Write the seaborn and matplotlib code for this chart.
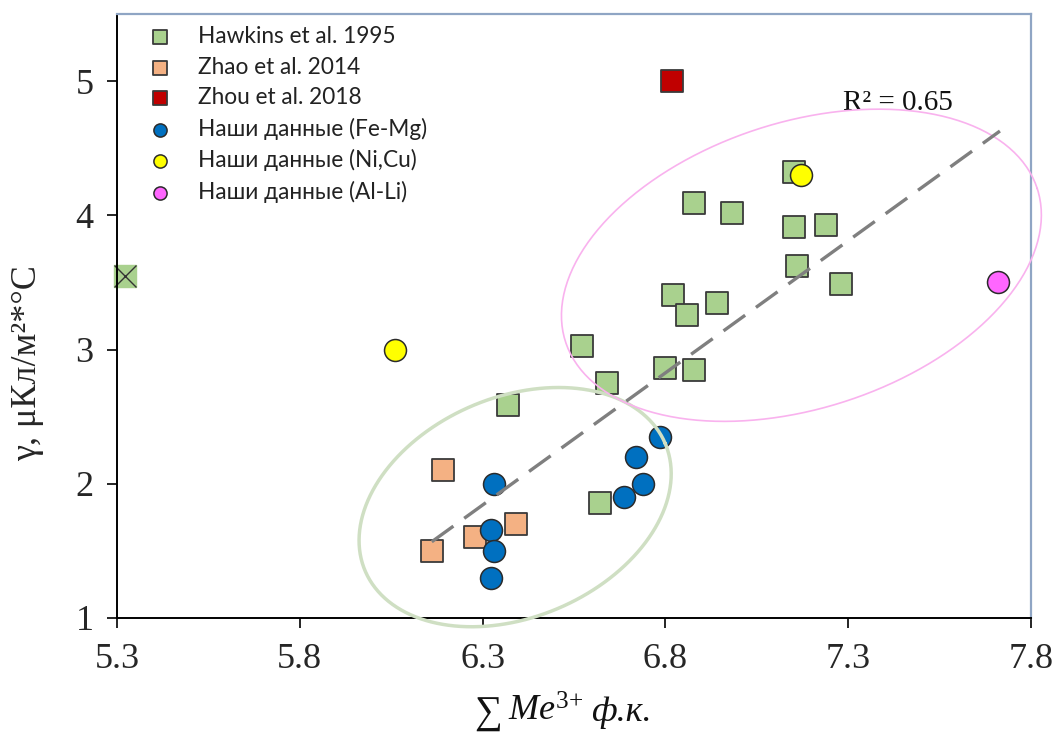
import numpy as np
import matplotlib
matplotlib.use("Agg")
import matplotlib.pyplot as plt
import seaborn as sns

# values
hawkins_x = [7.153, 6.879, 6.983, 7.153, 7.240, 7.161, 7.281, 6.822, 6.860,
             6.942, 6.573, 6.800, 6.879, 6.641, 6.370, 6.622]
hawkins_y = [4.32, 4.09, 4.02, 3.91, 3.93, 3.62, 3.49, 3.41, 3.26,
             3.35, 3.03, 2.86, 2.85, 2.75, 2.59, 1.86]
crossed_x = [5.322]          # Hawkins-coloured square marked with a cross
crossed_y = [3.55]
zhao_x = [6.191, 6.161, 6.280, 6.390]
zhao_y = [2.10, 1.50, 1.60, 1.70]
zhou_x = [6.817]
zhou_y = [5.00]
femg_x = [6.330, 6.324, 6.330, 6.324, 6.784, 6.720, 6.740, 6.688]
femg_y = [2.00, 1.655, 1.50, 1.30, 2.35, 2.20, 2.00, 1.90]
nicu_x = [6.061, 7.172]
nicu_y = [3.00, 4.30]
alli_x = [7.711]
alli_y = [3.50]
trend_x = [6.161, 7.715]
trend_y = [1.568, 4.628]
r2_text = "R² = 0.65"
x_ticks = [5.3, 5.8, 6.3, 6.8, 7.3, 7.8]
y_ticks = [1, 2, 3, 4, 5]

sns.set_theme(style="white")
plt.rcParams['font.family'] = ['Liberation Serif', 'DejaVu Serif']
plt.rcParams['mathtext.fontset'] = 'custom'
plt.rcParams['mathtext.rm'] = 'Liberation Serif'
plt.rcParams['mathtext.it'] = 'Liberation Serif:italic'

fig = plt.figure(figsize=(10.59, 7.33), dpi=100)
ax = fig.add_axes([117 / 1059, 115 / 733, 914 / 1059, 604 / 733])

sq = dict(marker='s', s=250, edgecolor='#3a3a3a', linewidth=1.3, zorder=3)
ci = dict(marker='o', s=250, edgecolor='#2b2b2b', linewidth=1.1, zorder=4)

sns.scatterplot(x=crossed_x, y=crossed_y, color='#A9D18E', marker='s', s=250,
                edgecolor='#A9D18E', linewidth=1, zorder=2, clip_on=False, ax=ax)
sns.scatterplot(x=crossed_x, y=crossed_y, color='#333333', marker='x', s=250,
                linewidth=1, zorder=2, clip_on=False, ax=ax)
sns.scatterplot(x=hawkins_x, y=hawkins_y, color='#A9D18E', label='Hawkins et al. 1995', ax=ax, **sq)
sns.scatterplot(x=zhao_x, y=zhao_y, color='#F4B183', label='Zhao et al. 2014', ax=ax, **sq)
sns.scatterplot(x=zhou_x, y=zhou_y, color='#C00000', label='Zhou et al. 2018', ax=ax, **sq)
sns.scatterplot(x=femg_x, y=femg_y, color='#0070C0', label='Наши данные (Fe-Mg)', ax=ax, **ci)
sns.scatterplot(x=nicu_x, y=nicu_y, color='#FFFF00', label='Наши данные (Ni,Cu)', ax=ax, **ci)
sns.scatterplot(x=alli_x, y=alli_y, color='#FF66FF', label='Наши данные (Al-Li)', ax=ax, **ci)

ax.set_xlim(5.3, 7.8)
ax.set_ylim(1, 5.5)
ax.set_xticks(x_ticks)
ax.set_xticklabels([f"{t:.1f}" for t in x_ticks])
ax.set_yticks(y_ticks)

# trend line on top of the markers
sns.lineplot(x=trend_x, y=trend_y, color='#7F7F7F', linewidth=2.4,
             dashes=False, zorder=6, ax=ax)
ax.lines[-1].set_dashes((8, 4))


def draw_ellipse(center, a, b, angle, **kw):
    # a, b in pixels, drawn in display space then mapped back to data
    cx, cy = ax.transData.transform(center)
    t = np.linspace(0, 2 * np.pi, 300)
    th = np.deg2rad(angle)
    px = cx + a * np.cos(t) * np.cos(th) - b * np.sin(t) * np.sin(th)
    py = cy + a * np.cos(t) * np.sin(th) + b * np.sin(t) * np.cos(th)
    pts = ax.transData.inverted().transform(np.column_stack([px, py]))
    ax.plot(pts[:, 0], pts[:, 1], clip_on=False, **kw)


draw_ellipse((6.389, 1.826), 163, 110, 23, color='#CFDFC3', lw=2.5, zorder=5)
draw_ellipse((7.172, 3.628), 248, 143, 18, color='#F9B2EE', lw=1.2, zorder=5)

ax.text(7.437, 4.835, r2_text, ha='center', va='center', fontsize=21, color='#111111')

for side in ['left', 'bottom']:
    ax.spines[side].set_color('black')
    ax.spines[side].set_linewidth(1.4)
for side in ['top', 'right']:
    ax.spines[side].set_color('#8FA5C4')
    ax.spines[side].set_linewidth(1.6)

ax.tick_params(axis='both', which='major', direction='out', length=7, width=1.2,
               color='black', labelsize=26, bottom=True, left=True)
ax.tick_params(axis='x', pad=11)
ax.tick_params(axis='y', pad=10)

ax.set_ylabel('γ, μКл/м²*°С', fontsize=26)
ax.yaxis.set_label_coords(-0.080, 0.422)

# x label built from pieces: upright sum sign, italic rest
lab_y = (618 - 721) / 604
ax.text((474 - 117) / 914, lab_y - 0.004, '∑', transform=ax.transAxes, fontsize=28,
        ha='left', va='baseline', color='#111111')
ax.text((508 - 117) / 914, lab_y, '$\\mathit{Me}^{3{+}}$', transform=ax.transAxes,
        fontsize=26, ha='left', va='baseline', color='#111111')
ax.text((591 - 117) / 914, lab_y, 'ф.к.', transform=ax.transAxes, fontsize=26,
        style='italic', ha='left', va='baseline', color='#111111')

leg = ax.legend(loc='upper left', bbox_to_anchor=(0.0125, 0.995), borderaxespad=0,
                frameon=False, markerscale=0.6, labelspacing=0.42, handletextpad=0.69,
                prop={'family': 'Lato', 'size': 16.3})
for t in leg.get_texts():
    t.set_color('#222222')

fig.savefig('out.png', dpi=100)
